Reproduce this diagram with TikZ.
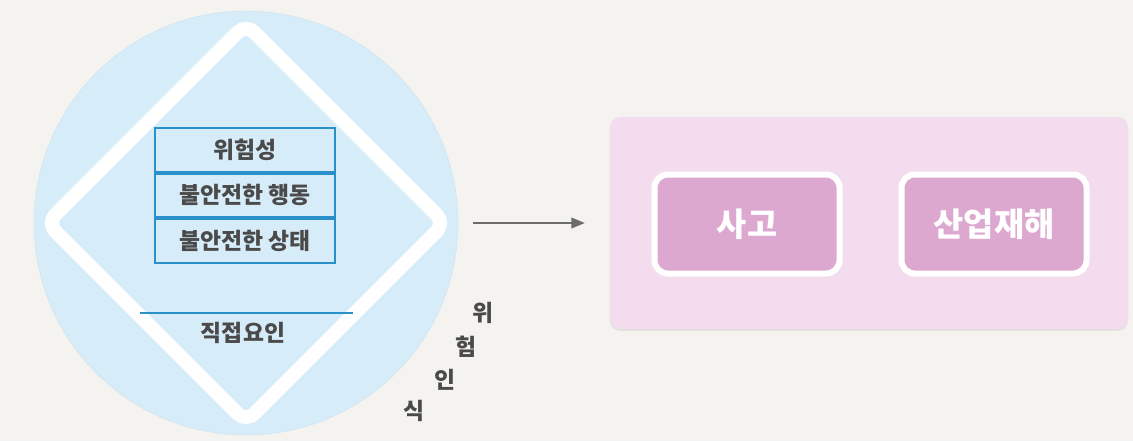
\documentclass[tikz,border=0pt]{standalone}
\usepackage{fontspec}
\setmainfont{Noto Sans CJK KR}
\usetikzlibrary{arrows.meta,positioning,shadows}

\definecolor{bgcol}{HTML}{F5F3F0}
\definecolor{skyfill}{HTML}{D6ECF9}
\definecolor{lineblue}{HTML}{2A90CA}
\definecolor{inkgray}{HTML}{4A4A4A}
\definecolor{panelpink}{HTML}{F3DCEE}
\definecolor{tagpink}{HTML}{DDA8D0}

\tikzset{
  layer/.style={draw=lineblue, line width=1.8pt, fill=skyfill, minimum width=5.4cm,
    minimum height=1.3cm, inner sep=0pt, text=inkgray, font=\fontsize{19.5}{21}\selectfont\bfseries},
  tag/.style={draw=white, line width=0.18cm, fill=tagpink, rounded corners=0.4cm,
    minimum width=5.55cm, minimum height=2.97cm, text=white, font=\fontsize{28}{30}\selectfont\bfseries},
  glyph/.style={text=inkgray, inner sep=0pt, font=\fontsize{19.5}{21}\selectfont\bfseries},
  rim/.style={draw=white, line width=0.42cm, rounded corners=0.35cm, line join=round}
}

\begin{document}
\begin{tikzpicture}[x=0.03cm, y=-0.03cm]
   \useasboundingbox (0,0) rectangle (1133,441);
   \fill[bgcol] (0,0) rectangle (1133,441);

   % left: circle with diamond
   \node[circle, fill=skyfill, draw=skyfill!92!gray, minimum size=12.72cm, inner sep=0pt] (disc) at (246,223) {};
   \draw[rim] (246,24) -- (445,223) -- (246,422) -- (47,223) -- cycle;
   \draw[lineblue, line width=2.4pt] (140,313) -- (353,313);
   \node[glyph] (direct) at (243,333) {직접요인};

   \node[layer] (hazard) at (245,150) {위험성};
   \node[layer] (act) [below=0pt of hazard] {불안전한 행동};
   \node[layer] (state) [below=0pt of act] {불안전한 상태};

   \foreach \ch/\px/\py [count=\i] in {위/483/313, 험/466/347, 인/445/380, 식/414/411}
      \node[glyph] (risk\i) at (\px,\py) {\ch};

   % right: result panel
   \node[fill=panelpink, rounded corners=0.3cm, minimum width=15.54cm, minimum height=6.36cm,
         drop shadow={opacity=0.15, shadow xshift=0pt, shadow yshift=-1.5pt}] (panel) at (869,223) {};
   \node[tag] (accident) at (747,224) {사고};
   \node[tag] (disaster) [right=1.68cm of accident] {산업재해};

   \draw[-{Triangle[length=0.4cm,width=0.32cm]}, line width=1.3pt, draw=gray!85!black,
         shorten <=0.45cm, shorten >=0.75cm] (disc.east) -- (panel.west);
\end{tikzpicture}
\end{document}
